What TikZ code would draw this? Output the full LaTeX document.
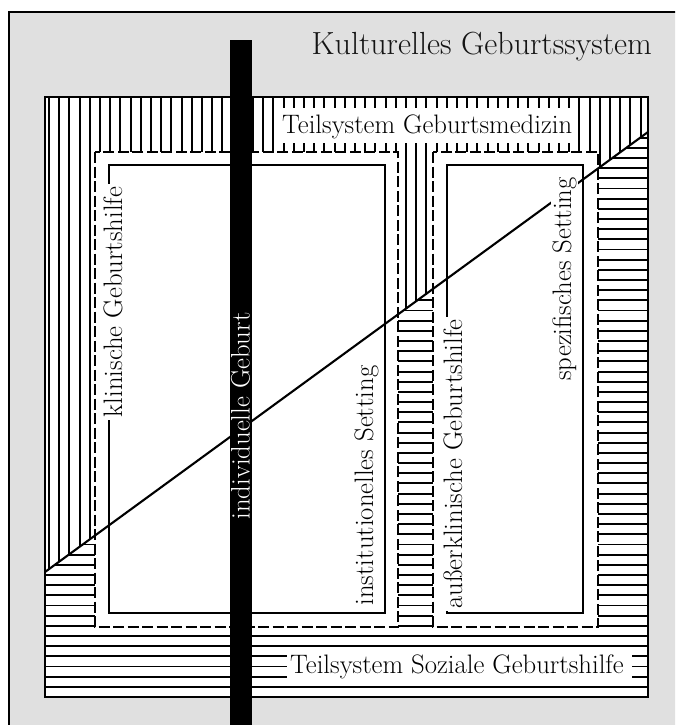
\documentclass[tikz,border=0pt]{standalone}
\tikzset{
  hatch/.style={line width=1.9pt},
  frameline/.style={line width=2.1pt},
  dashbox/.style={fill=white, draw=black, line width=1.9pt, dash pattern=on 11pt off 3.5pt},
  innerbox/.style={draw=black, line width=1.9pt},
  lbl/.style={font=\fontsize{26.7}{30}\selectfont, inner sep=0pt},
  titlelbl/.style={font=\fontsize{32}{36}\selectfont, inner sep=0pt, text=black!92},
  vlbl/.style={lbl, rotate=90, anchor=base},
}
\begin{document}
\begin{tikzpicture}[x=1pt,y=-1pt]
\useasboundingbox (0,0) rectangle (675,725);
\clip (0,0) rectangle (675,725);
% grey frame
\fill[black!12] (9,12) rectangle (690,740);
\draw[frameline] (9,740) -- (9,12) -- (690,12);
\fill[white] (45,97) rectangle (648,697);
% vertical hatch above the diagonal
\begin{scope}
  \clip (45,97) -- (648,97) -- (648,132) -- (45,572) -- cycle;
  \foreach \k in {-1,...,58} \draw[hatch] ({59.2+10.2*\k},97) -- ++(0,600);
\end{scope}
% horizontal hatch below the diagonal
\begin{scope}
  \clip (45,572) -- (648,132) -- (648,697) -- (45,697) -- cycle;
  \foreach \k in {0,...,59} \draw[hatch] (45,{697-10.17*\k}) -- ++(603,0);
\end{scope}
% label backgrounds
\fill[white] (274.4,108) rectangle (578.4,143);
\fill[white] (287,648.5) rectangle (632,684.5);
% dashed subsystems
\draw[dashbox] (95,152) rectangle (398,627);
\draw[dashbox] (433,152) rectangle (598,627);
% inner settings
\draw[innerbox] (109,165) rectangle (385,613);
\draw[innerbox] (447,165) rectangle (583,613);
% main frame
\draw[frameline] (45,97) rectangle (648,697);
% diagonal
\coordinate (dA) at (45,572);
\coordinate (dB) at (648,132);
\draw[frameline] (dA) -- (dB);
% individual birth bar
\fill[black] (230,40) rectangle (252,740);
% texts
\node[titlelbl, anchor=base east] (title) at (652,55) {Kulturelles Geburtssystem};
\node[lbl, anchor=base west] (tgm) at (282,133) {Teilsystem Geburtsmedizin};
\node[lbl, anchor=base west] (tsg) at (290,673) {Teilsystem Soziale Geburtshilfe};
\node[vlbl, fill=white, inner sep=2.5pt] (kg) at (122,302) {klinische Geburtshilfe};
\node[vlbl] (is) at (373,485.5) {institutionelles Setting};
\node[vlbl, fill=white, inner sep=2.5pt] (ak) at (462,464) {außerklinische Geburtshilfe};
\node[vlbl, fill=white, inner sep=1.5pt] (ss) at (571,279) {spezifisches Setting};
\node[vlbl, text=white] (ig) at (249.5,416) {individuelle Geburt};
\end{tikzpicture}
\end{document}
